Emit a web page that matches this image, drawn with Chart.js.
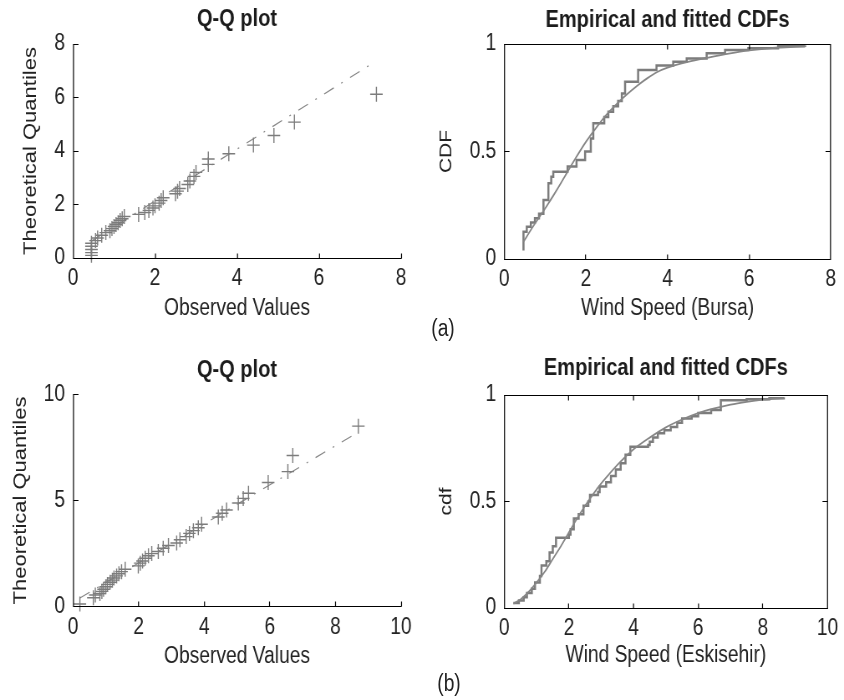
<!DOCTYPE html>
<html><head><meta charset="utf-8">
<script src="https://cdn.jsdelivr.net/npm/chart.js@4.4.1/dist/chart.umd.min.js"></script>
<style>
html,body{margin:0;padding:0;background:#fff;}
#wrap{position:relative;width:844px;height:700px;overflow:hidden;background:#fff;}
#sc{position:absolute;left:0;top:0;height:700px;transform-origin:0 0;}
canvas{position:absolute;}
.lab{position:absolute;transform:translate(-50%,-50%);color:#222;white-space:nowrap;line-height:1;
  font-family:"Liberation Sans", Arial, sans-serif;font-size:23px;}
</style></head><body>
<div id="wrap"><div id="sc">
<canvas id="c1" width="505" height="340"></canvas>
<canvas id="c2" width="505" height="340"></canvas>
<canvas id="c3" width="505" height="360"></canvas>
<canvas id="c4" width="505" height="360"></canvas>
<div class="lab" id="la">(a)</div>
<div class="lab" id="lb">(b)</div>
</div></div>
<script>
// ---------- DATA ----------
// (a) Bursa Q-Q plot
const qqA_observed    = [0.45,0.45,0.45,0.45,0.45,0.55,0.6,0.7,0.8,0.9,0.95,1.0,1.05,1.1,1.15,1.2,1.25,1.6,1.75,1.85,1.95,2.0,2.1,2.15,2.2,2.5,2.55,2.6,2.8,2.85,2.95,3.0,3.3,3.3,3.8,4.4,4.9,5.4,7.4];
const qqA_theoretical = [0.1,0.2,0.32,0.44,0.55,0.65,0.75,0.85,0.95,1.02,1.1,1.18,1.25,1.32,1.4,1.47,1.55,1.63,1.7,1.78,1.87,1.95,2.05,2.15,2.25,2.4,2.5,2.6,2.75,2.88,3.05,3.2,3.5,3.7,3.9,4.22,4.58,5.08,6.12];
const qqA_refLineX = [0.45, 7.37];
const qqA_refLineY = [0.63, 7.34];
const qqA_xTicks = [0,2,4,6,8];
const qqA_yTicks = [0,2,4,6,8];

// (a) Bursa CDFs
const cdfA_empX = [0.47,0.47,0.55,0.65,0.75,0.85,0.96,1.08,1.15,1.2,1.55,1.77,1.98,2.12,2.18,2.45,2.55,2.67,2.79,2.88,2.96,3.28,3.73,4.14,4.47,4.96,5.41,5.98,6.71,7.37];
const cdfA_empY = [0.04,0.127,0.15,0.17,0.19,0.21,0.274,0.352,0.383,0.406,0.43,0.46,0.50,0.56,0.631,0.66,0.685,0.71,0.735,0.77,0.825,0.879,0.9,0.918,0.933,0.957,0.972,0.98,0.99,0.99];
const cdfA_fitX = [0.47,0.7,1.0,1.25,1.5,1.75,2.0,2.25,2.5,2.75,3.0,3.25,3.5,3.75,4.0,4.5,5.0,5.5,6.0,6.5,7.0,7.4];
const cdfA_fitY = [0.08,0.15,0.235,0.31,0.39,0.47,0.545,0.61,0.67,0.72,0.765,0.805,0.84,0.87,0.89,0.917,0.937,0.955,0.97,0.98,0.986,0.99];
const cdfA_xTicks = [0,2,4,6,8];
const cdf_yTicks = [0,0.5,1];

// (b) Eskisehir Q-Q plot
const qqB_observed    = [0.21,0.62,0.68,0.82,0.88,0.93,1.0,1.05,1.13,1.2,1.25,1.33,1.4,1.48,1.59,1.99,2.05,2.12,2.2,2.3,2.4,2.6,2.75,2.91,3.16,3.26,3.45,3.55,3.67,3.82,3.92,4.43,4.55,4.68,5.04,5.19,5.35,5.95,6.55,6.7,8.7];
const qqB_theoretical = [0.13,0.42,0.55,0.62,0.72,0.82,0.94,1.05,1.15,1.25,1.35,1.45,1.55,1.65,1.76,1.92,2.05,2.15,2.28,2.4,2.5,2.6,2.75,2.88,3.0,3.15,3.3,3.45,3.58,3.72,3.88,4.22,4.4,4.55,4.88,5.1,5.34,5.85,6.36,7.12,8.5];
const qqB_refLineX = [0.21, 8.7];
const qqB_refLineY = [0.41, 8.22];
const qqB_xTicks = [0,2,4,6,8,10];
const qqB_yTicks = [0,5,10];

// (b) Eskisehir CDFs
const cdfB_empX = [0.28,0.45,0.6,0.7,0.85,0.95,1.1,1.15,1.3,1.4,1.5,1.6,2.0,2.05,2.15,2.3,2.45,2.6,2.65,2.9,2.95,3.15,3.3,3.45,3.6,3.75,3.9,4.45,4.5,4.6,4.75,4.95,5.15,5.35,5.5,5.8,6.0,6.4,6.7,7.5,8.2,8.65];
const cdfB_empY = [0.024,0.035,0.05,0.07,0.09,0.12,0.15,0.2,0.22,0.26,0.29,0.33,0.345,0.37,0.42,0.44,0.48,0.50,0.53,0.545,0.57,0.59,0.62,0.65,0.68,0.72,0.757,0.765,0.78,0.80,0.82,0.835,0.85,0.87,0.89,0.90,0.915,0.93,0.975,0.98,0.985,0.99];
const cdfB_fitX = [0.28,0.5,0.75,1.0,1.25,1.5,1.75,2.0,2.25,2.5,2.75,3.0,3.25,3.5,3.75,4.0,4.5,5.0,5.5,6.0,6.5,7.0,7.5,8.0,8.65];
const cdfB_fitY = [0.02,0.04,0.075,0.12,0.17,0.23,0.29,0.355,0.42,0.48,0.535,0.585,0.63,0.672,0.71,0.745,0.8,0.848,0.885,0.915,0.937,0.955,0.968,0.978,0.986];
const cdfB_xTicks = [0,2,4,6,8,10];

// Texts
const titleQQ = 'Q-Q plot';
const titleCDF = 'Empirical and fitted CDFs';
const xLabelQQ = 'Observed Values';
const yLabelQQ = 'Theoretical Quantiles';
const xLabelA = 'Wind Speed (Bursa)';
const xLabelB = 'Wind Speed (Eskisehir)';
const yLabelA = 'CDF';
const yLabelB = 'cdf';

// ---------- LAYOUT (horizontal compression to mimic the narrow figure) ----------
const CW = 505;               // canvas width in drawing units
const S = 422 / CW;           // horizontal CSS scale
const FAM = '"Liberation Sans", Arial, sans-serif';
const TICK = 23, LABEL = 23, TITLE = 24;
const sc = document.getElementById('sc');
sc.style.width = (844 / S) + 'px';
sc.style.transform = 'scaleX(' + S + ')';
const place = (id, x, y) => { const e = document.getElementById(id); e.style.left = (x / S) + 'px'; e.style.top = y + 'px'; };
place('c1', 0, 0); place('c2', 422, 0); place('c3', 0, 340); place('c4', 422, 340);
place('la', 443, 328); place('lb', 449, 683);

// ---------- HELPERS ----------
const zip = (xs, ys) => xs.map((x,i)=>({x:x, y:ys[i]}));
const GRAY = '#7c7c7c';
const AXIS = '#000';

const decor = {
  id:'decor',
  afterDraw(chart, args, opts){
    const {ctx, chartArea:a, scales:{x, y}} = chart;
    const ax = v => (Math.floor(v * S) + 0.5) / S;   // crisp vertical lines on screen
    const ay = v => Math.floor(v) + 0.5;
    const L = 5, LX = 5 / S;
    const l=ax(a.left), r=ax(a.right), t=ay(a.top), b=ay(a.bottom);
    ctx.save();
    ctx.strokeStyle = AXIS;
    ctx.lineWidth = 1;
    ctx.beginPath();
    ctx.moveTo(l, b); ctx.lineTo(r, b);
    if (opts.box){ ctx.moveTo(l, t); ctx.lineTo(r, t); }
    y.ticks.forEach(tk=>{
      const py = ay(y.getPixelForValue(tk.value));
      ctx.moveTo(l, py); ctx.lineTo(l + LX, py);
      if (opts.box){ ctx.moveTo(r, py); ctx.lineTo(r - LX, py); }
    });
    ctx.stroke();
    ctx.lineWidth = 1 / S;
    ctx.beginPath();
    ctx.moveTo(l, t - 0.5); ctx.lineTo(l, b + 0.5);
    if (opts.box){ ctx.moveTo(r, t - 0.5); ctx.lineTo(r, b + 0.5); }
    x.ticks.forEach(tk=>{
      const px = ax(x.getPixelForValue(tk.value));
      ctx.moveTo(px, b); ctx.lineTo(px, b - L);
      if (opts.box){ ctx.moveTo(px, t); ctx.lineTo(px, t + L); }
    });
    ctx.stroke();
    ctx.restore();
  }
};

function makeChart(p){
  const H=p.h, a=p.area;
  const left = a.left / S, right = CW - a.right / S;
  const tlh=TITLE*1.2, xlh=LABEL*1.2, ylh=p.yTitleSize*1.2;
  return new Chart(document.getElementById(p.id), {
    type:'scatter',
    data:{datasets:p.datasets},
    options:{
      responsive:false, animation:false, events:[],
      layout:{padding:{left:0, top:0, right:right, bottom:0}},
      plugins:{
        legend:{display:false}, tooltip:{enabled:false},
        title:{display:true, fullSize:false, text:p.title, color:'#1c1c1c',
          font:{family:FAM, size:TITLE, weight:'bold'},
          padding:{top:p.titleY-tlh/2, bottom:a.top-p.titleY-tlh/2}},
        decor:{box:p.box}
      },
      scales:{
        x:{type:'linear', position:'bottom',
          min:p.xTicks[0], max:p.xTicks[p.xTicks.length-1],
          afterBuildTicks:s=>{s.ticks=p.xTicks.map(v=>({value:v}));},
          afterFit:s=>{s.height=H-a.bottom;},
          grid:{display:false, drawTicks:false}, border:{display:false},
          ticks:{padding:7, color:'#222', font:{family:FAM, size:TICK},
            maxRotation:0, autoSkip:false, callback:v=>String(v)},
          title:{display:true, text:p.xTitle, color:'#222', font:{family:FAM, size:LABEL},
            padding:{top:0, bottom:H-p.xTitleY-xlh/2}}
        },
        y:{type:'linear', position:'left',
          min:p.yTicks[0], max:p.yTicks[p.yTicks.length-1],
          afterBuildTicks:s=>{s.ticks=p.yTicks.map(v=>({value:v}));},
          afterFit:s=>{s.width=left;},
          grid:{display:false, drawTicks:false}, border:{display:false},
          ticks:{padding:8/S, color:'#222', font:{family:FAM, size:TICK},
            autoSkip:false, callback:v=>String(v)},
          title:{display:true, text:p.yTitle, color:'#222', font:{family:FAM, size:p.yTitleSize},
            padding:{top:p.yTitleX/S-ylh/2, bottom:0}}
        }
      }
    },
    plugins:[decor]
  });
}

function qqSets(obs, theo, lx, ly){
  return [
    {type:'line', data:zip(lx, ly), showLine:true, pointRadius:0, borderColor:'#858585',
     borderWidth:1.2, borderDash:[13,10,2,10], fill:false, order:2},
    {type:'scatter', data:zip(obs, theo), pointStyle:'cross', pointRadius:7.5, pointHoverRadius:7.5,
     borderColor:GRAY, pointBorderColor:GRAY, borderWidth:1.4, backgroundColor:'transparent', clip:false, order:1}
  ];
}
function cdfSets(ex, ey, fx, fy){
  return [
    {type:'line', data:zip(fx, fy), showLine:true, pointRadius:0, borderColor:'#868686',
     borderWidth:1.8, cubicInterpolationMode:'monotone', fill:false},
    {type:'line', data:zip(ex, ey), showLine:true, pointRadius:0, borderColor:GRAY,
     borderWidth:2.5, stepped:'before', fill:false}
  ];
}

makeChart({id:'c1', h:340, area:{left:73, right:401, top:44, bottom:258},
  title:titleQQ, titleY:19, xTitle:xLabelQQ, xTitleY:309, yTitle:yLabelQQ, yTitleX:31, yTitleSize:22,
  xTicks:qqA_xTicks, yTicks:qqA_yTicks, box:false,
  datasets:qqSets(qqA_observed, qqA_theoretical, qqA_refLineX, qqA_refLineY)});

makeChart({id:'c2', h:340, area:{left:82.3, right:408.7, top:44, bottom:259},
  title:titleCDF, titleY:20, xTitle:xLabelA, xTitleY:309, yTitle:yLabelA, yTitleX:24, yTitleSize:21,
  xTicks:cdfA_xTicks, yTicks:cdf_yTicks, box:true,
  datasets:cdfSets(cdfA_empX, cdfA_empY, cdfA_fitX, cdfA_fitY)});

makeChart({id:'c3', h:360, area:{left:73, right:401, top:54.3, bottom:266.7},
  title:titleQQ, titleY:30, xTitle:xLabelQQ, xTitleY:317, yTitle:yLabelQQ, yTitleX:20.5, yTitleSize:22,
  xTicks:qqB_xTicks, yTicks:qqB_yTicks, box:false,
  datasets:qqSets(qqB_observed, qqB_theoretical, qqB_refLineX, qqB_refLineY)});

makeChart({id:'c4', h:360, area:{left:82.3, right:408.7, top:55, bottom:268},
  title:titleCDF, titleY:28, xTitle:xLabelB, xTitleY:316, yTitle:yLabelB, yTitleX:24, yTitleSize:21,
  xTicks:cdfB_xTicks, yTicks:cdf_yTicks, box:true,
  datasets:cdfSets(cdfB_empX, cdfB_empY, cdfB_fitX, cdfB_fitY)});
</script>
</body></html>
